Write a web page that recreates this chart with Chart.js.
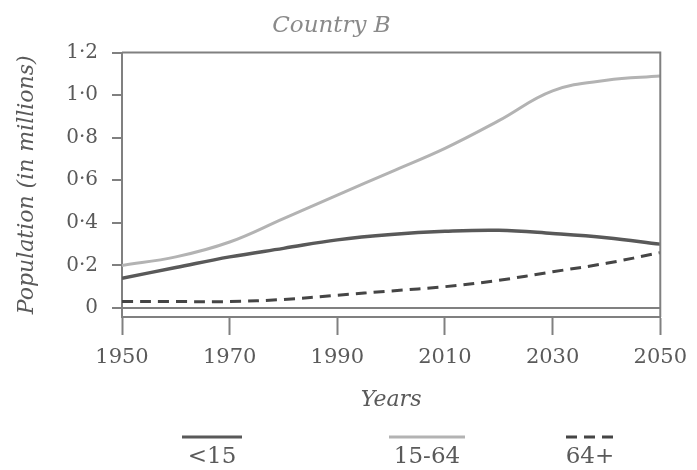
<!DOCTYPE html>
<html>
<head>
<meta charset="utf-8">
<script src="https://cdn.jsdelivr.net/npm/chart.js@4.4.1/dist/chart.umd.min.js"></script>
<style>
  html, body { margin: 0; padding: 0; background: #fff; }
  #wrap { width: 697px; height: 470px; }
</style>
</head>
<body>
<div id="wrap"><canvas id="popChart"></canvas></div>
<script>
//---x-axis
var years = [1950, 1960, 1970, 1980, 1990, 2000, 2010, 2020, 2030, 2040, 2050];

//---y-axis
var yTicks = [0, 0.2, 0.4, 0.6, 0.8, 1.0, 1.2];

//---data (millions)
var under15 = [0.14, 0.19, 0.24, 0.28, 0.32, 0.345, 0.36, 0.365, 0.35, 0.33, 0.30];
var age15to64 = [0.20, 0.24, 0.31, 0.42, 0.53, 0.64, 0.75, 0.88, 1.02, 1.07, 1.09];
var over64 = [0.03, 0.03, 0.03, 0.04, 0.06, 0.08, 0.10, 0.13, 0.17, 0.21, 0.26];

var seriesNames = ['<15', '15-64', '64+'];

var serif = "'DejaVu Serif', 'Liberation Serif', serif";
var textGrey = '#5a5a5a';
var axisGrey = '#808080';

function toPoints(values) {
  return years.map(function (y, i) { return { x: y, y: values[i] }; });
}

// frame on top / right + bottom legend with line above label
var framePlugin = {
  id: 'frame',
  afterDraw: function (chart) {
    var c = chart.ctx, a = chart.chartArea;
    c.save();
    c.strokeStyle = axisGrey;
    c.lineWidth = 2;
    c.beginPath();
    c.moveTo(a.left, a.top);
    c.lineTo(a.right, a.top);
    c.lineTo(a.right, a.bottom);
    c.stroke();

    // legend
    var centers = [212, 427, 590];
    var halfW = [30, 38, 24];
    chart.data.datasets.forEach(function (ds, i) {
      c.strokeStyle = ds.borderColor;
      c.lineWidth = 3;
      c.setLineDash(ds.borderDash || []);
      c.beginPath();
      c.moveTo(centers[i] - halfW[i], 437);
      c.lineTo(centers[i] + halfW[i], 437);
      c.stroke();
      c.setLineDash([]);
      c.fillStyle = textGrey;
      c.font = '23px ' + serif;
      c.textAlign = 'center';
      c.textBaseline = 'middle';
      c.fillText(ds.label, centers[i], 457);
    });
    c.restore();
  }
};

var ctx = document.getElementById('popChart');

var data = {
  datasets: [{
    label: seriesNames[0],
    data: toPoints(under15),
    borderColor: '#595959',
    borderWidth: 3.5,
    pointRadius: 0,
    tension: 0.4
  }, {
    label: seriesNames[1],
    data: toPoints(age15to64),
    borderColor: '#b3b3b3',
    borderWidth: 3,
    pointRadius: 0,
    tension: 0.4
  }, {
    label: seriesNames[2],
    data: toPoints(over64),
    borderColor: '#454545',
    borderWidth: 3,
    borderDash: [11, 7],
    pointRadius: 0,
    tension: 0.4
  }]
};

var options = {
  responsive: true,
  maintainAspectRatio: false,
  animation: false,
  layout: { padding: { left: 0, right: 34, top: 0, bottom: 57 } },
  plugins: {
    legend: { display: false },
    tooltip: { enabled: false },
    title: {
      display: true,
      text: 'Country B',
      color: '#8a8a8a',
      font: { family: serif, size: 23, style: 'italic', weight: 'normal' },
      padding: { top: 12, bottom: 13 }
    }
  },
  scales: {
    x: {
      type: 'linear',
      min: 1950,
      max: 2050,
      ticks: {
        stepSize: 20,
        color: textGrey,
        font: { family: serif, size: 21 },
        padding: 10,
        maxRotation: 0,
        callback: function (v) { return String(v); }
      },
      grid: {
        drawOnChartArea: false,
        tickLength: 18,
        tickColor: axisGrey,
        tickWidth: 2
      },
      border: { color: axisGrey, width: 2 },
      title: {
        display: true,
        text: 'Years',
        color: textGrey,
        font: { family: serif, size: 22, style: 'italic' },
        padding: { top: 4, bottom: 0 }
      },
      afterFit: function (scale) { scale.height = 96; }
    },
    y: {
      min: -0.0425,
      max: 1.2,
      afterBuildTicks: function (scale) {
        scale.ticks = yTicks.map(function (v) { return { value: v }; });
      },
      ticks: {
        color: textGrey,
        font: { family: serif, size: 20 },
        padding: 14,
        callback: function (v) {
          return v === 0 ? '0' : v.toFixed(1).replace('.', '\u00b7');
        }
      },
      grid: {
        drawOnChartArea: true,
        tickLength: 10,
        tickColor: axisGrey,
        lineWidth: 2,
        color: function (c) { return c.tick && c.tick.value === 0 ? axisGrey : 'rgba(0,0,0,0)'; }
      },
      border: { color: axisGrey, width: 2 },
      title: {
        display: true,
        text: 'Population (in millions)',
        color: textGrey,
        font: { family: serif, size: 22, style: 'italic' },
        padding: { top: 14, bottom: 4 }
      },
      afterFit: function (scale) { scale.width = 122; }
    }
  }
};

var popChart = new Chart(ctx, {
  type: 'line',
  data: data,
  options: options,
  plugins: [framePlugin]
});
</script>
</body>
</html>
